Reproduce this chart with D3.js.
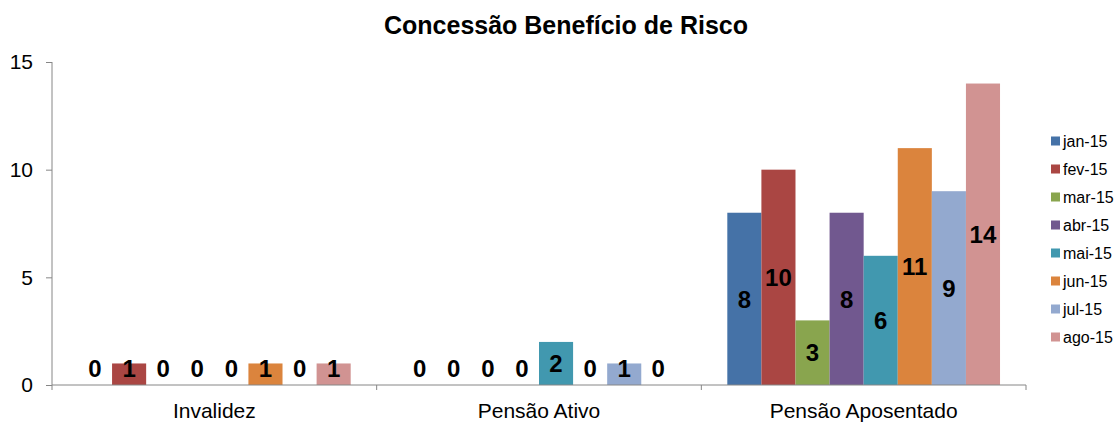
<!DOCTYPE html>
<html>
<head>
<meta charset="utf-8">
<script src="https://cdn.jsdelivr.net/npm/d3@7"></script>
<style>
  body { margin: 0; background: #fff; }
  svg text { font-family: "Liberation Sans", Arial, sans-serif; }
</style>
</head>
<body>
<div class="chart"></div>
<script>
const categories = ['Invalidez', 'Pensão Ativo', 'Pensão Aposentado'];
const months = ['jan-15', 'fev-15', 'mar-15', 'abr-15', 'mai-15', 'jun-15', 'jul-15', 'ago-15'];
// one array per category, one value per month
const invalidez = [0, 1, 0, 0, 0, 1, 0, 1];
const pensaoAtivo = [0, 0, 0, 0, 2, 0, 1, 0];
const pensaoAposentado = [8, 10, 3, 8, 6, 11, 9, 14];
const colors = ['#4572A7', '#AA4643', '#89A54E', '#71588F', '#4198AF', '#DB843D', '#93A9CF', '#D19392'];
const yTicks = [0, 5, 10, 15];

const values = [invalidez, pensaoAtivo, pensaoAposentado];
const data = categories.map((c, i) => ({
    cat: c,
    vals: months.map((m, j) => ({month: m, value: values[i][j], idx: j}))
}));

const W = 1120, H = 423;
const margin = {top: 62, right: 94, bottom: 38, left: 52};
const width = W - margin.left - margin.right;
const height = H - margin.top - margin.bottom;

const svg = d3.select('.chart').append('svg')
    .attr('width', W)
    .attr('height', H);

// title
svg.append('text')
    .attr('x', 566)
    .attr('y', 34)
    .attr('text-anchor', 'middle')
    .style('font-size', '25px')
    .style('font-weight', 'bold')
    .text('Concessão Benefício de Risco');

const g = svg.append('g')
    .attr('transform', 'translate(' + margin.left + ',' + margin.top + ')');

const x0 = d3.scaleBand()
    .domain(categories)
    .range([0, width])
    .padding(0);

const gap = x0.bandwidth() * 0.08;
const x1 = d3.scaleBand()
    .domain(months)
    .range([gap, x0.bandwidth() - gap])
    .padding(0);

const y = d3.scaleLinear()
    .domain([0, 15])
    .range([height, 0]);

// y axis
const yAxis = g.append('g')
    .call(d3.axisLeft(y).tickValues(yTicks).tickSize(6).tickPadding(13));
yAxis.selectAll('path, line').attr('stroke', '#868686');
yAxis.select('.domain').attr('d', 'M0,0V' + height);
yAxis.selectAll('text')
    .style('font-size', '21px')
    .attr('fill', '#000');

// bars
const groups = g.selectAll('.grp')
    .data(data)
    .enter().append('g')
    .attr('class', 'grp')
    .attr('transform', d => 'translate(' + x0(d.cat) + ',0)');

groups.selectAll('rect')
    .data(d => d.vals)
    .enter().append('rect')
    .attr('x', d => x1(d.month))
    .attr('y', d => y(d.value))
    .attr('width', x1.bandwidth())
    .attr('height', d => height - y(d.value))
    .attr('fill', d => colors[d.idx]);

// value labels
groups.selectAll('.lbl')
    .data(d => d.vals)
    .enter().append('text')
    .attr('class', 'lbl')
    .attr('x', d => x1(d.month) + x1.bandwidth() / 2)
    .attr('y', d => Math.min((y(d.value) + height) / 2, height - 17))
    .attr('dy', '0.36em')
    .attr('text-anchor', 'middle')
    .style('font-size', '24px')
    .style('font-weight', 'bold')
    .text(d => d.value);

// x axis
const xAxis = g.append('g')
    .attr('transform', 'translate(0,' + height + ')');
xAxis.append('line')
    .attr('x1', 0).attr('x2', width)
    .attr('stroke', '#868686');
const bounds = [0].concat(categories.map(c => x0(c) + x0.bandwidth()));
xAxis.selectAll('.tk')
    .data(bounds)
    .enter().append('line')
    .attr('class', 'tk')
    .attr('x1', d => d).attr('x2', d => d)
    .attr('y1', 0).attr('y2', 5)
    .attr('stroke', '#868686');
xAxis.selectAll('.cl')
    .data(categories)
    .enter().append('text')
    .attr('class', 'cl')
    .attr('x', d => x0(d) + x0.bandwidth() / 2)
    .attr('y', 33)
    .attr('text-anchor', 'middle')
    .style('font-size', '21px')
    .text(d => d);

// legend
const legend = svg.append('g')
    .attr('transform', 'translate(1051,141)');
const items = legend.selectAll('.li')
    .data(months)
    .enter().append('g')
    .attr('class', 'li')
    .attr('transform', (d, i) => 'translate(0,' + i * 28 + ')');
items.append('rect')
    .attr('x', 0).attr('y', -4.5)
    .attr('width', 9).attr('height', 9)
    .attr('fill', (d, i) => colors[i]);
items.append('text')
    .attr('x', 12)
    .attr('y', 5.5)
    .style('font-size', '16px')
    .text(d => d);
</script>
</body>
</html>
